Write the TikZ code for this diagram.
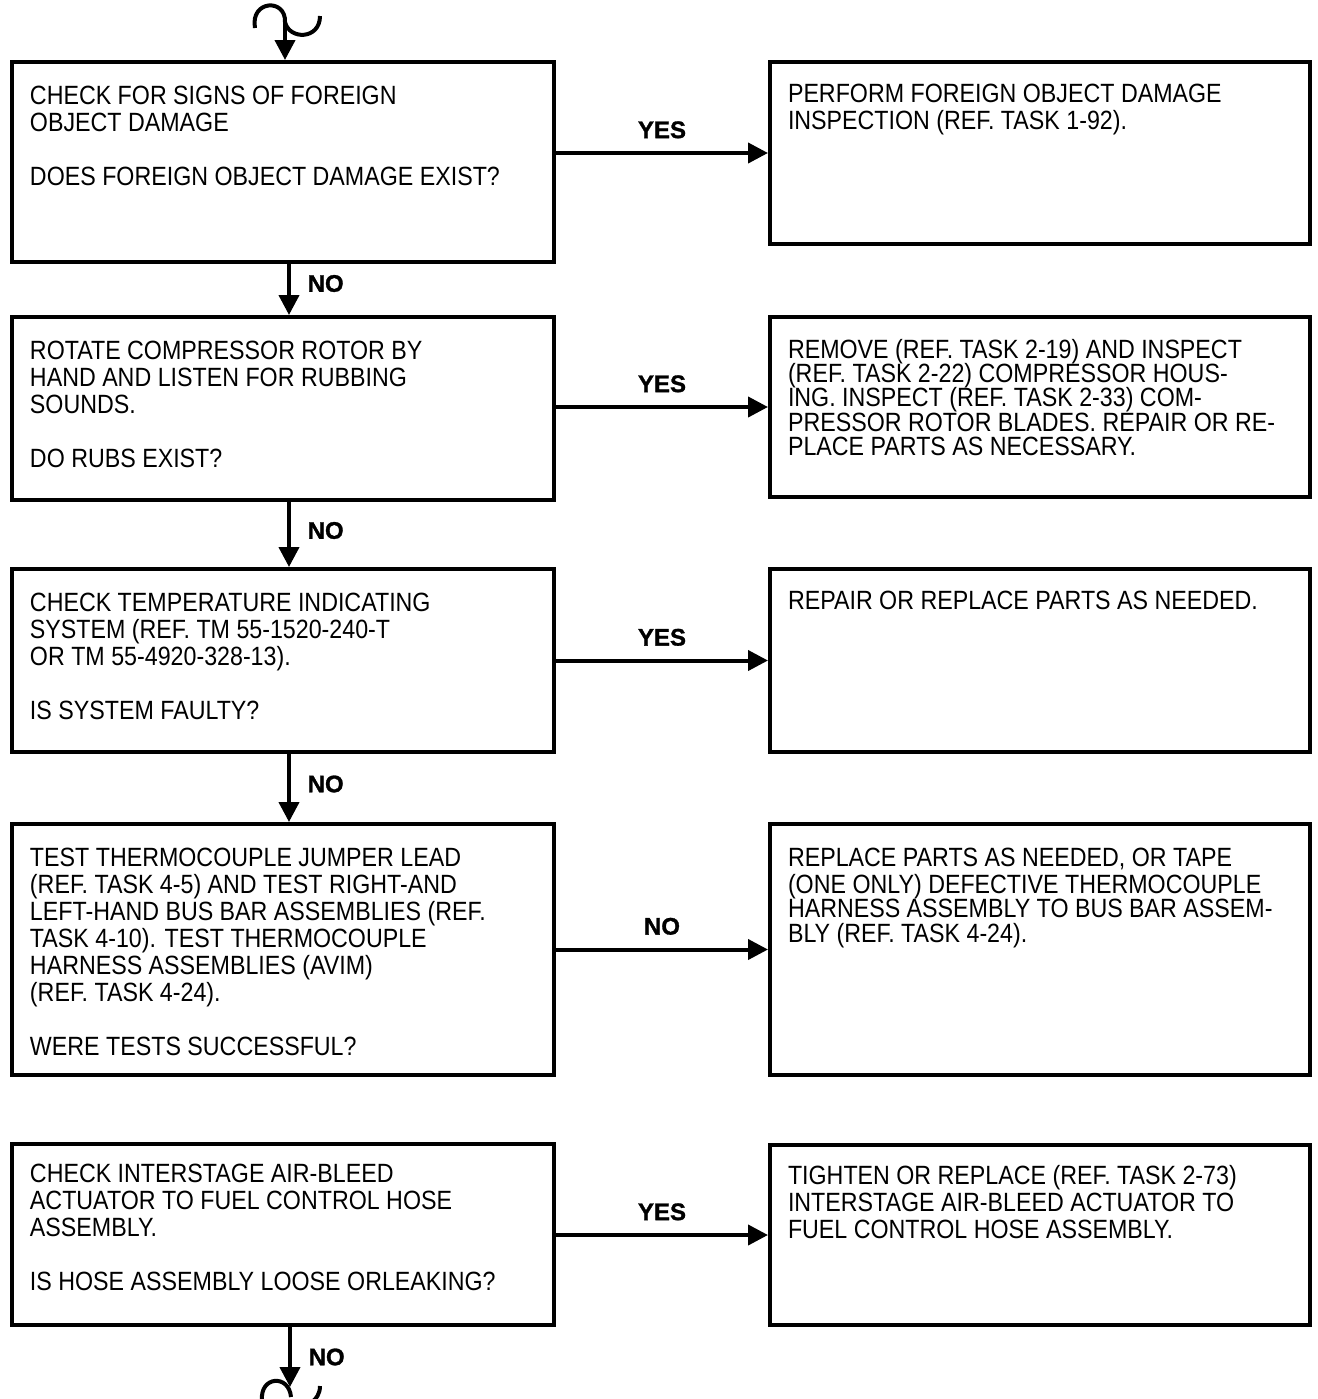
\documentclass[tikz,border=0pt]{standalone}
\usepackage{fontspec}
\setmainfont[FakeStretch=0.88]{Liberation Sans}
\newfontfamily\ansfont[FakeBold=1.2]{Liberation Sans}
\usetikzlibrary{positioning, arrows.meta}

\newcommand{\lbox}[2]{\parbox[t][#1][t]{253pt}{#2}}
\newcommand{\rbox}[2]{\parbox[t][#1][t]{252pt}{#2}}
\newcommand{\tight}{\fontsize{13.2}{12.2}\selectfont\lineskiplimit=-20pt }

\begin{document}
\begin{tikzpicture}[x=0.5pt, y=-0.5pt,
    qbox/.style={draw, line width=2pt, rectangle, anchor=north west, inner xsep=9pt, inner ysep=12pt, font=\fontsize{13.2}{13.5}\selectfont},
    flow/.style={line width=2pt, -{Triangle[length=10pt, width=10pt]}},
    ans/.style={font=\ansfont\fontsize{12}{13}\selectfont\bfseries},
    brk/.style={line width=2pt}]
    \useasboundingbox (0,0) rectangle (1318,1399);
    % questions, left column
    \node[qbox] (B1) at (10,60) {\lbox{76pt}{CHECK FOR SIGNS OF FOREIGN\\OBJECT DAMAGE\\[\baselineskip]DOES FOREIGN OBJECT DAMAGE EXIST?}};
    \node[qbox] (B2) at (10,315) {\lbox{67.5pt}{ROTATE COMPRESSOR ROTOR BY\\HAND AND LISTEN FOR RUBBING\\SOUNDS.\\[\baselineskip]DO RUBS EXIST?}};
    \node[qbox] (B3) at (10,567) {\lbox{67.5pt}{CHECK TEMPERATURE INDICATING\\SYSTEM (REF. TM 55-1520-240-T\\OR TM 55-4920-328-13).\\[\baselineskip]IS SYSTEM FAULTY?}};
    \node[qbox] (B4) at (10,822) {\lbox{101.5pt}{TEST THERMOCOUPLE JUMPER LEAD\\(REF. TASK 4-5) AND TEST RIGHT-AND\\LEFT-HAND BUS BAR ASSEMBLIES (REF.\\TASK 4-10). TEST THERMOCOUPLE\\HARNESS ASSEMBLIES (AVIM)\\(REF. TASK 4-24).\\[\baselineskip]WERE TESTS SUCCESSFUL?}};
    \node[qbox, inner ysep=10pt] (B5) at (10,1142) {\lbox{70.5pt}{CHECK INTERSTAGE AIR-BLEED\\ACTUATOR TO FUEL CONTROL HOSE\\ASSEMBLY.\\[\baselineskip]IS HOSE ASSEMBLY LOOSE ORLEAKING?}};
    % actions, right column
    \node[qbox, inner ysep=11pt] (R1) at (768,60) {\rbox{69pt}{PERFORM FOREIGN OBJECT DAMAGE\\INSPECTION (REF. TASK 1-92).}};
    \node[qbox, inner ysep=11pt] (R2) at (768,315) {\rbox{68pt}{\tight REMOVE (REF. TASK 2-19) AND INSPECT\\(REF. TASK 2-22) COMPRESSOR HOUS-\\ING. INSPECT (REF. TASK 2-33) COM-\\PRESSOR ROTOR BLADES. REPAIR OR RE-\\PLACE PARTS AS NECESSARY.}};
    \node[qbox, inner ysep=11pt] (R3) at (768,567) {\rbox{69.5pt}{REPAIR OR REPLACE PARTS AS NEEDED.}};
    \node[qbox] (R4) at (768,822) {\rbox{101.5pt}{\tight REPLACE PARTS AS NEEDED, OR TAPE\\[1.3pt](ONE ONLY) DEFECTIVE THERMOCOUPLE\\HARNESS ASSEMBLY TO BUS BAR ASSEM-\\BLY (REF. TASK 4-24).}};
    \node[qbox, inner ysep=10pt] (R5) at (768,1143) {\rbox{70pt}{TIGHTEN OR REPLACE (REF. TASK 2-73)\\INTERSTAGE AIR-BLEED ACTUATOR TO\\FUEL CONTROL HOSE ASSEMBLY.}};
    % entry and exit breaks
    \coordinate (top) at (285,22);
    \coordinate (btm) at (290,1387);
    \draw[brk] (255,28) .. controls (250,0) and (286,-2) .. (top) .. controls (289,40) and (320,40) .. (320,16);
    \draw[brk] (262,1400) .. controls (260,1376) and (289,1374) .. (291,1397);
    \draw[brk] (320,1386) .. controls (320,1394) and (316,1399) .. (312,1402);
    \draw[flow] (top) -- (top |- B1.north);
    \draw[flow] (B5.south -| btm) -- (btm) node[midway, right=5pt, ans] {NO};
    % yes/no branches
    \draw[flow] (R1.west -| B1.east) -- (R1.west) node[midway, above=3pt, ans] {YES};
    \draw[flow] (R2.west -| B2.east) -- (R2.west) node[midway, above=3pt, ans] {YES};
    \draw[flow] (R3.west -| B3.east) -- (R3.west) node[midway, above=3pt, ans] {YES};
    \draw[flow] (R4.west -| B4.east) -- (R4.west) node[midway, above=3pt, ans] {NO};
    \draw[flow] (R5.west -| B5.east) -- (R5.west) node[midway, above=3pt, ans] {YES};
    \draw[flow] ([xshift=3pt]B1.south) -- ([xshift=3pt]B2.north) node[midway, right=5pt, yshift=3pt, ans] {NO};
    \draw[flow] ([xshift=3pt]B2.south) -- ([xshift=3pt]B3.north) node[midway, right=5pt, yshift=2pt, ans] {NO};
    \draw[flow] ([xshift=3pt]B3.south) -- ([xshift=3pt]B4.north) node[midway, right=5pt, yshift=2pt, ans] {NO};
\end{tikzpicture}
\end{document}
